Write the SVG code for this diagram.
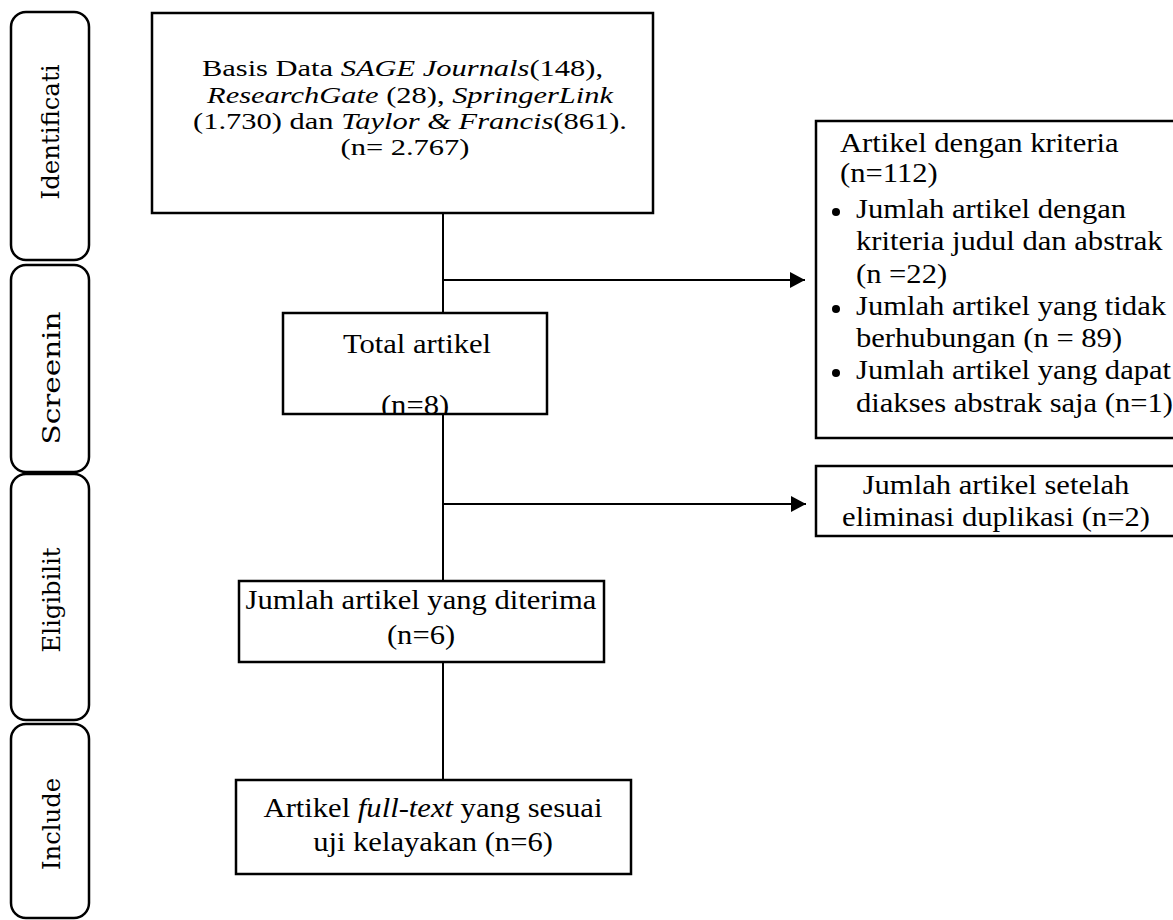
<svg xmlns="http://www.w3.org/2000/svg" width="1173" height="920" viewBox="0 0 1173 920">
<style>
.bg{fill:#fff}
.stage{fill:#fff;stroke:#000;stroke-width:2.5}
.box{fill:#fff;stroke:#000;stroke-width:2.5}
.side{font-family:'DejaVu Serif',serif;font-size:24px;fill:#000;text-anchor:middle}
.t{font-family:'Liberation Serif','Times New Roman',Times,serif;font-size:27px;fill:#000}
.t24{font-family:'Liberation Serif','Times New Roman',Times,serif;font-size:24px;fill:#000}
.m{text-anchor:middle}
.i{font-style:italic}
.conn{fill:none;stroke:#000;stroke-width:2}
</style>
<defs>
<marker id="arr" markerUnits="userSpaceOnUse" markerWidth="16" markerHeight="16" refX="15" refY="8" orient="auto">
<path d="M0,0 L15,8 L0,16 Z" fill="#000"/>
</marker>
<clipPath id="clipTotal"><rect x="283" y="313" width="264" height="101"/></clipPath>
</defs>
<rect class="bg" x="0" y="0" width="1173" height="920"/>

<g id="stage-identification">
<rect class="stage" x="11" y="12" width="78" height="248" rx="15"/>
<text class="side" transform="translate(59,132) rotate(-90)" textLength="135" lengthAdjust="spacingAndGlyphs">Identificati</text>
</g>
<g id="stage-screening">
<rect class="stage" x="11" y="265" width="78" height="207" rx="15"/>
<text class="side" transform="translate(60,378) rotate(-90)" textLength="133" lengthAdjust="spacingAndGlyphs">Screenin</text>
</g>
<g id="stage-eligibility">
<rect class="stage" x="11" y="474" width="78" height="246" rx="15"/>
<text class="side" transform="translate(60,600) rotate(-90)" textLength="105" lengthAdjust="spacingAndGlyphs">Eligibilit</text>
</g>
<g id="stage-include">
<rect class="stage" x="11" y="724" width="78" height="194" rx="15"/>
<text class="side" transform="translate(60,824) rotate(-90)" textLength="92" lengthAdjust="spacingAndGlyphs">Include</text>
</g>

<g id="connectors">
<line class="conn" x1="443" y1="213" x2="443" y2="313"/>
<line class="conn" x1="443" y1="414" x2="443" y2="581"/>
<line class="conn" x1="443" y1="662" x2="443" y2="780"/>
<line class="conn" x1="443" y1="280" x2="805" y2="280" marker-end="url(#arr)"/>
<line class="conn" x1="443" y1="504" x2="806" y2="504" marker-end="url(#arr)"/>
</g>

<g id="node-database">
<rect class="box" x="152" y="13" width="501" height="200" stroke-width="3"/>
<text class="t24 m" transform="translate(402.5,76) scale(1.27,1)">Basis Data <tspan class="i">SAGE Journals</tspan>(148),</text>
<text class="t24 m" transform="translate(410,103) scale(1.27,1)"><tspan class="i">ResearchGate</tspan> (28), <tspan class="i">SpringerLink</tspan></text>
<text class="t24 m" transform="translate(410,129) scale(1.27,1)">(1.730) dan <tspan class="i">Taylor &amp; Francis</tspan>(861).</text>
<text class="t24 m" transform="translate(405,155) scale(1.27,1)">(n= 2.767)</text>
</g>

<g id="node-excluded-criteria">
<rect class="box" x="816" y="121" width="370" height="317"/>
<g transform="translate(840,0) scale(1.133,1)">
<text class="t" x="0" y="152">Artikel dengan kriteria</text>
<text class="t" x="0" y="182">(n=112)</text>
</g>
<circle cx="836" cy="212" r="4"/>
<circle cx="836" cy="309" r="4"/>
<circle cx="836" cy="373" r="4"/>
<g transform="translate(856,0) scale(1.133,1)">
<text class="t" x="0" y="218">Jumlah artikel dengan</text>
<text class="t" x="0" y="250">kriteria judul dan abstrak</text>
<text class="t" x="0" y="283">(n =22)</text>
<text class="t" x="0" y="315">Jumlah artikel yang tidak</text>
<text class="t" x="0" y="347">berhubungan (n = 89)</text>
<text class="t" x="0" y="379">Jumlah artikel yang dapat</text>
<text class="t" x="0" y="412">diakses abstrak saja (n=1)</text>
</g>
</g>

<g id="node-total">
<rect class="box" x="283" y="313" width="264" height="101"/>
<g transform="translate(417,0) scale(1.133,1)">
<text class="t m" x="0" y="353">Total artikel</text>
</g>
<g clip-path="url(#clipTotal)">
<g transform="translate(415,0) scale(1.133,1)">
<text class="t m" x="0" y="414">(n=8)</text>
</g>
</g>
</g>

<g id="node-duplicates">
<rect class="box" x="816" y="466" width="370" height="70"/>
<g transform="translate(996,0) scale(1.133,1)">
<text class="t m" x="0" y="494">Jumlah artikel setelah</text>
<text class="t m" x="0" y="526">eliminasi duplikasi (n=2)</text>
</g>
</g>

<g id="node-accepted">
<rect class="box" x="239" y="581" width="365" height="81"/>
<g transform="translate(421,0) scale(1.133,1)">
<text class="t m" x="0" y="609">Jumlah artikel yang diterima</text>
<text class="t m" x="0" y="644">(n=6)</text>
</g>
</g>

<g id="node-fulltext">
<rect class="box" x="236" y="780" width="395" height="94"/>
<g transform="translate(433,0) scale(1.133,1)">
<text class="t m" x="0" y="817">Artikel <tspan class="i">full-text</tspan> yang sesuai</text>
<text class="t m" x="0" y="851">uji kelayakan (n=6)</text>
</g>
</g>
</svg>
